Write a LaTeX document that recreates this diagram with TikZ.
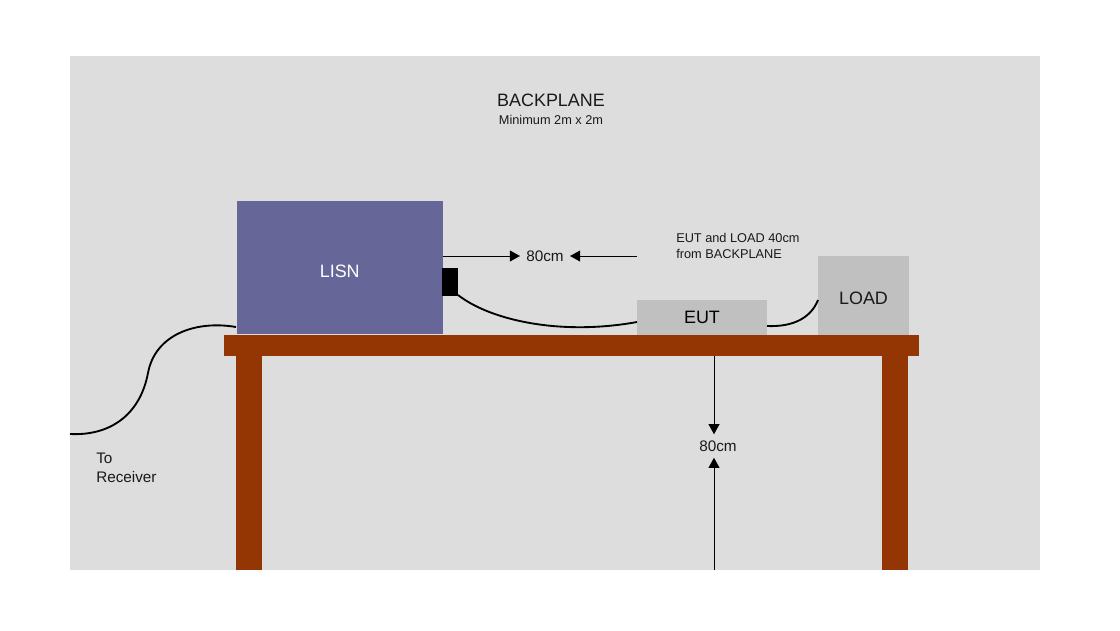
\documentclass[tikz,border=0pt]{standalone}
\usepackage{fontspec}
\setmainfont{Liberation Sans}
\usetikzlibrary{arrows.meta}
\definecolor{wallgray}{RGB}{221,221,222}
\definecolor{lisnblue}{RGB}{102,102,153}
\definecolor{boxgray}{RGB}{192,192,192}
\definecolor{tablered}{RGB}{148,54,4}
\definecolor{inkgray}{RGB}{25,25,25}
\tikzset{px/.style={x=0.02646cm,y=-0.02646cm}}
\begin{document}
\begin{tikzpicture}[>={Triangle[length=2.7mm,width=2.9mm]},line join=round,px,
	box/.style={inner sep=0pt,outer sep=0pt},
	lbl/.style={inner sep=0pt,align=left,text=inkgray},
	dist/.style={line width=0.75pt,shorten >=0.16cm},
	cable/.style={line width=1.4pt}]
	\useasboundingbox (0,0) rectangle (1120,630);
	\fill[white] (0,0) rectangle (1120,630);
	\fill[wallgray] (70,56) rectangle (1040,570);
	\fill[tablered] (236,355) rectangle (262,570);
	\fill[tablered] (882,355) rectangle (908,570);
	\fill[tablered] (224,335) rectangle (919,356);
	\node[box,fill=lisnblue,minimum width=5.46cm,minimum height=3.52cm] (lisn) at (339.75,267.5) {};
	\node[box,fill=black,minimum width=0.4cm,minimum height=0.74cm] (plug) at (450,282) {};
	\node[box,fill=boxgray,minimum width=3.44cm,minimum height=0.926cm,font=\fontsize{13.5}{16}\selectfont] (eut) at (702,317.5) {EUT};
	\node[box,fill=boxgray,minimum width=2.41cm,minimum height=2.09cm] (load) at (863.5,295.5) {};
	\node[lbl,text=white,font=\fontsize{13.5}{16}\selectfont] (lisntext) at (339.75,271) {LISN};
	\node[lbl,font=\fontsize{13.5}{16}\selectfont] (loadtext) at (863.5,298) {LOAD};
	\node[lbl,font=\fontsize{13.5}{16}\selectfont] (title) at (551,100) {BACKPLANE};
	\node[lbl,font=\fontsize{9.6}{12}\selectfont] (minsize) at (551,120) {Minimum 2m x 2m};
	\node[lbl,font=\fontsize{11.5}{14}\selectfont] (topdist) at (545,256) {80cm};
	\node[lbl,font=\fontsize{11.5}{14}\selectfont] (tabledist) at (718,446) {80cm};
	\node[lbl,anchor=west,font=\fontsize{9.6}{12}\selectfont] (note) at (676,246) {EUT and LOAD 40cm\\from BACKPLANE};
	\node[lbl,anchor=west,font=\fontsize{11.5}{14.25}\selectfont] (recv) at (96,467.5) {To\\Receiver};
	\coordinate (lisnedge) at (443,256);
	\coordinate (noteleft) at (637,256);
	\coordinate (tabletop) at (714,356);
	\coordinate (floorpt) at (714,570);
	\coordinate (wallleft) at (70,434);
	\coordinate (plugend) at (458,295);
	\coordinate (cablemid) at (148,373);
	\coordinate (lisnend) at (236,327);
	\coordinate (eutin) at (637,322);
	\coordinate (eutout) at (767,326);
	\coordinate (loadin) at (818,300);
	\draw[dist,->] (lisnedge) -- (topdist.west);
	\draw[dist,->] (noteleft) -- (topdist.east);
	\draw[dist,->] (tabletop) -- (tabledist.north -| tabletop);
	\draw[dist,->] (floorpt) -- (tabledist.south -| floorpt);
	\draw[cable] (plugend) .. controls (490,320) and (560,336) .. (eutin);
	\draw[cable] (eutout) .. controls (790,327) and (810,320) .. (loadin);
	\draw[cable] (wallleft) .. controls (110,436) and (140,415) .. (cablemid) .. controls (155,335) and (195,320) .. (lisnend);
\end{tikzpicture}
\end{document}
